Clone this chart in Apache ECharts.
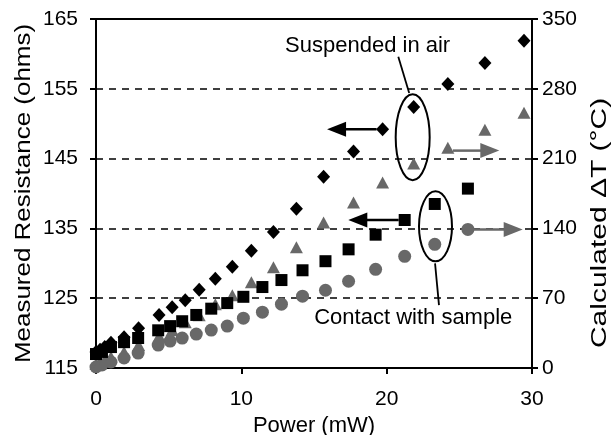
<!DOCTYPE html>
<html>
<head>
<meta charset="utf-8">
<script src="https://cdn.jsdelivr.net/npm/echarts@6/dist/echarts.min.js"></script>
<style>
html,body{margin:0;padding:0;background:#fff;}
#chart{width:613px;height:435px;}
</style>
</head>
<body>
<div id="chart"></div>
<script>
// ---- data ----
var xTicks = [0, 10, 20, 30];
var leftTicks = [115, 125, 135, 145, 155, 165];
var rightTicks = [0, 70, 140, 210, 280, 350];

var suspPower = [0, 0.28, 0.6, 1.03, 1.93, 2.93, 4.34, 5.24, 6.14, 7.1, 8.21, 9.38, 10.69, 12.21, 13.79, 15.66, 17.72, 19.72, 21.86, 24.21, 26.76, 29.45];
var suspResistance = [117.3, 117.6, 118.0, 118.6, 119.4, 120.7, 122.6, 123.7, 124.7, 126.2, 127.8, 129.5, 131.8, 134.5, 137.8, 142.4, 146.0, 149.2, 152.4, 155.7, 158.7, 161.9];
var suspDeltaT = [4, 6, 8, 11, 16, 23, 32, 38, 46, 53, 64, 73, 86, 101, 121, 146, 166, 186, 205, 221, 239, 256];

var contactPower = [0, 0.41, 1.03, 1.93, 2.9, 4.28, 5.1, 5.93, 6.9, 7.93, 9.03, 10.14, 11.45, 12.76, 14.21, 15.79, 17.38, 19.24, 21.24, 23.31, 25.59];
var contactResistance = [117.0, 117.3, 118.0, 118.7, 119.3, 120.4, 121.0, 121.7, 122.6, 123.5, 124.3, 125.2, 126.6, 127.6, 129.0, 130.3, 132.0, 134.1, 136.2, 138.5, 140.7];
var contactDeltaT = [1, 3, 6, 10, 15, 23, 27, 30, 34, 38, 42, 50, 56, 64, 72, 78, 87, 99, 112, 124, 139];

var xTitle = 'Power (mW)';
var leftTitle = 'Measured Resistance (ohms)';
var rightTitle = 'Calculated ΔT (°C)';
var labelSuspended = 'Suspended in air';
var labelContact = 'Contact with sample';

function pairs(xs, ys) { return xs.map(function (x, i) { return [x, ys[i]]; }); }

var FONT = '"Liberation Sans", Arial, sans-serif';
var GRAY = '#686868';

var chart = echarts.init(document.getElementById('chart'), null, {renderer: 'canvas'});

var option = {
  animation: false,
  backgroundColor: '#fff',
  grid: {left: 96, right: 81, top: 19, bottom: 67, outerBoundsMode: 'none', containLabel: false,
         show: true, borderColor: '#000', borderWidth: 2, backgroundColor: 'transparent'},
  xAxis: {
    type: 'value', min: xTicks[0], max: xTicks[xTicks.length - 1], interval: 10,
    name: xTitle, nameLocation: 'middle', nameGap: 45,
    nameTextStyle: {fontFamily: FONT, fontSize: 22, color: '#000'},
    axisLine: {show: true, lineStyle: {color: '#000', width: 2}},
    axisTick: {show: true, length: 6, lineStyle: {color: '#000', width: 2}},
    axisLabel: {fontFamily: FONT, fontSize: 21, color: '#000', margin: 21},
    splitLine: {show: false}
  },
  yAxis: [{
    type: 'value', min: leftTicks[0], max: leftTicks[leftTicks.length - 1], interval: 10,
    axisLine: {show: true, lineStyle: {color: '#000', width: 2}},
    axisTick: {show: true, length: 6, lineStyle: {color: '#000', width: 2}},
    axisLabel: {fontFamily: FONT, fontSize: 21, color: '#000', margin: 18},
    splitLine: {show: true, lineStyle: {color: '#000', width: 1.5, type: [7, 6]}}
  }, {
    type: 'value', position: 'right', min: rightTicks[0], max: rightTicks[rightTicks.length - 1], interval: 70,
    axisLine: {show: true, lineStyle: {color: '#000', width: 2}},
    axisTick: {show: true, length: 6, lineStyle: {color: '#000', width: 2}},
    axisLabel: {fontFamily: FONT, fontSize: 21, color: '#000', margin: 10},
    splitLine: {show: false}
  }],
  series: [{
    name: 'Suspended resistance', type: 'scatter', yAxisIndex: 0,
    symbol: 'diamond', symbolSize: [13, 14],
    itemStyle: {color: '#000', opacity: 1},
    data: pairs(suspPower, suspResistance), z: 4
  }, {
    name: 'Suspended ΔT', type: 'scatter', yAxisIndex: 1,
    symbol: 'triangle', symbolSize: [13, 12],
    itemStyle: {color: GRAY, opacity: 1},
    data: pairs(suspPower, suspDeltaT), z: 3
  }, {
    name: 'Contact resistance', type: 'scatter', yAxisIndex: 0,
    symbol: 'rect', symbolSize: 12,
    itemStyle: {color: '#000', opacity: 1},
    data: pairs(contactPower, contactResistance), z: 4
  }, {
    name: 'Contact ΔT', type: 'scatter', yAxisIndex: 1,
    symbol: 'circle', symbolSize: 13,
    itemStyle: {color: GRAY, opacity: 1},
    data: pairs(contactPower, contactDeltaT), z: 2
  }]
};
chart.setOption(option);

// ---- annotations, anchored in data coordinates ----
function px(p, v, axis) { return chart.convertToPixel({xAxisIndex: 0, yAxisIndex: axis}, [p, v]); }

var measureCtx = document.createElement('canvas').getContext('2d');
function textWidth(text, font) { measureCtx.font = font; return measureCtx.measureText(text).width; }

function arrow(from, to, color) {
  var dx = to[0] - from[0], dy = to[1] - from[1];
  var len = Math.sqrt(dx * dx + dy * dy), ux = dx / len, uy = dy / len;
  var hl = 19, hw = 7.5;
  var base = [to[0] - ux * hl, to[1] - uy * hl];
  return [{
    type: 'line', silent: true, z: 10,
    shape: {x1: from[0], y1: from[1], x2: base[0] + ux * 2, y2: base[1] + uy * 2},
    style: {stroke: color, lineWidth: 2.5}
  }, {
    type: 'polygon', silent: true, z: 10,
    shape: {points: [to, [base[0] - uy * hw, base[1] + ux * hw], [base[0] + uy * hw, base[1] - ux * hw]]},
    style: {fill: color}
  }];
}

var g = [];
// vertical axis titles, stretched along their length like the reference
var TITLE_FONT = '22px ' + FONT;
var lStart = px(0, 115.7, 0), lEnd = px(0, 164.3, 0);
var rStart = px(30, 20, 1), rEnd = px(30, 271, 1);
var lLen = lStart[1] - lEnd[1], rLen = rStart[1] - rEnd[1];
g.push({type: 'text', silent: true, x: lStart[0] - 72, y: lStart[1], rotation: Math.PI / 2,
  scaleX: lLen / textWidth(leftTitle, TITLE_FONT),
  style: {text: leftTitle, font: TITLE_FONT, fill: '#000', align: 'left', verticalAlign: 'middle'}});
g.push({type: 'text', silent: true, x: rStart[0] + 68, y: rStart[1], rotation: Math.PI / 2,
  scaleX: rLen / textWidth(rightTitle, TITLE_FONT),
  style: {text: rightTitle, font: TITLE_FONT, fill: '#000', align: 'left', verticalAlign: 'middle'}});

// Suspended in air
var sBlackFrom = px(19.72, 149.2, 0), sBlackTo = px(15.9, 149.2, 0);
g = g.concat(arrow([sBlackFrom[0] - 6, sBlackFrom[1]], sBlackTo, '#000'));
var sGrayFrom = px(24.21, 218, 1), sGrayTo = px(27.75, 218, 1);
g = g.concat(arrow([sGrayFrom[0] + 5, sGrayFrom[1]], sGrayTo, GRAY));
var sEll = px(21.79, 148.05, 0);
g.push({type: 'ellipse', silent: true, z: 10, shape: {cx: sEll[0], cy: sEll[1], rx: 17, ry: 43}, style: {fill: null, stroke: '#000', lineWidth: 2}});
var sL1 = px(20.8, 159.6, 0), sL2 = px(21.55, 154.4, 0);
g.push({type: 'line', silent: true, z: 10, shape: {x1: sL1[0], y1: sL1[1], x2: sL2[0], y2: sL2[1]}, style: {stroke: '#000', lineWidth: 1.8}});
var sTxt = px(18.69, 161.1, 0);
g.push({type: 'text', silent: true, z: 10, x: sTxt[0], y: sTxt[1], style: {text: labelSuspended, font: '22px ' + FONT, fill: '#000', align: 'center', verticalAlign: 'middle'}});

// Contact with sample
var cBlackFrom = px(21.24, 136.2, 0), cBlackTo = px(17.36, 136.2, 0);
g = g.concat(arrow([cBlackFrom[0] - 6, cBlackFrom[1]], cBlackTo, '#000'));
var cGrayFrom = px(25.59, 139, 1), cGrayTo = px(29.36, 139, 1);
g = g.concat(arrow([cGrayFrom[0] + 6, cGrayFrom[1]], cGrayTo, GRAY));
var cEll = px(23.36, 135.3, 0);
g.push({type: 'ellipse', silent: true, z: 10, shape: {cx: cEll[0], cy: cEll[1], rx: 16.5, ry: 35}, style: {fill: null, stroke: '#000', lineWidth: 2}});
var cL1 = px(23.33, 130.0, 0), cL2 = px(23.6, 124.0, 0);
g.push({type: 'line', silent: true, z: 10, shape: {x1: cL1[0], y1: cL1[1], x2: cL2[0], y2: cL2[1]}, style: {stroke: '#000', lineWidth: 1.8}});
var cTxt = px(21.83, 122.2, 0);
g.push({type: 'text', silent: true, z: 10, x: cTxt[0], y: cTxt[1], style: {text: labelContact, font: '22px ' + FONT, fill: '#000', align: 'center', verticalAlign: 'middle'}});

chart.setOption({graphic: {elements: g}});
</script>
</body>
</html>
